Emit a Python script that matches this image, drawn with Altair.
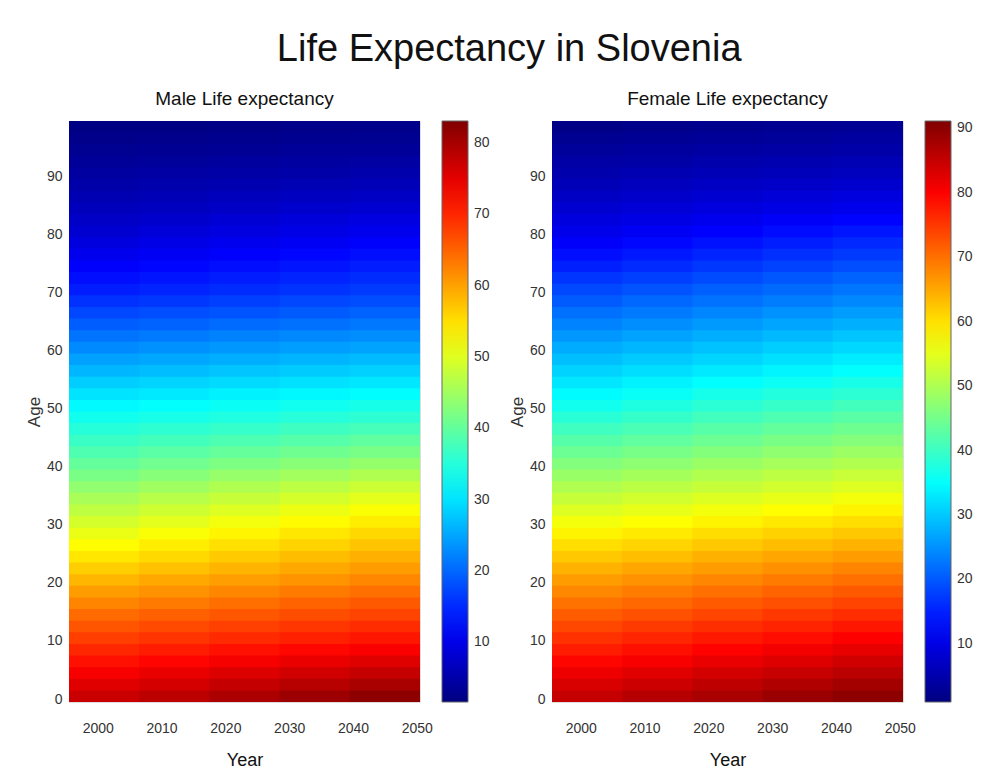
import altair as alt
import pandas as pd

# Column groups (first year of each 11-year block, years 1996-2050)
year_blocks = [1996, 2007, 2018, 2029, 2040]
# Row groups (first age of each 2-year age band, ages 0-99)
ages = list(range(0, 100, 2))

# Male remaining life expectancy (years), one list per year block, ages 0..98 step 2
male_1996 = [77.2, 75.3, 73.5, 71.6, 69.8, 68.0, 66.2, 64.4, 62.4, 60.4, 58.4, 56.5, 54.5, 52.7, 50.9, 49.2, 47.4, 45.6, 43.7, 41.9, 40.1, 38.4, 36.7, 35.1, 33.5, 31.8, 30.0, 28.2, 26.4, 24.6, 22.8, 21.0, 19.2, 17.4, 15.7, 14.0, 12.8, 11.6, 10.4, 9.2, 8.1, 7.2, 6.4, 5.7, 4.9, 4.2, 3.6, 3.0, 2.5, 1.9]
male_2007 = [78.3, 76.4, 74.5, 72.6, 70.7, 68.8, 67.0, 65.2, 63.2, 61.3, 59.4, 57.5, 55.6, 53.9, 52.1, 50.4, 48.6, 46.8, 44.9, 43.0, 41.1, 39.3, 37.5, 35.8, 34.0, 32.3, 30.5, 28.7, 26.9, 25.1, 23.3, 21.5, 19.7, 18.0, 16.2, 14.6, 13.4, 12.2, 11.0, 9.8, 8.7, 7.7, 6.8, 6.0, 5.2, 4.5, 3.8, 3.1, 2.6, 2.0]
male_2018 = [79.6, 77.6, 75.6, 73.6, 71.6, 69.6, 67.8, 66.0, 64.1, 62.2, 60.3, 58.5, 56.7, 55.0, 53.3, 51.6, 49.8, 48.0, 46.1, 44.1, 42.1, 40.2, 38.3, 36.4, 34.6, 32.9, 31.1, 29.3, 27.5, 25.7, 23.9, 22.1, 20.3, 18.5, 16.8, 15.2, 14.0, 12.8, 11.6, 10.4, 9.3, 8.3, 7.3, 6.4, 5.5, 4.7, 4.0, 3.3, 2.8, 2.2]
male_2029 = [80.8, 78.7, 76.6, 74.5, 72.4, 70.4, 68.6, 66.8, 65.0, 63.1, 61.2, 59.5, 57.8, 56.1, 54.5, 52.8, 51.0, 49.2, 47.2, 45.1, 43.1, 41.0, 39.0, 37.1, 35.2, 33.4, 31.6, 29.8, 28.0, 26.2, 24.4, 22.6, 20.8, 19.0, 17.4, 15.8, 14.6, 13.4, 12.2, 11.0, 9.8, 8.8, 7.7, 6.8, 5.8, 4.9, 4.2, 3.5, 2.9, 2.4]
male_2040 = [82.0, 79.8, 77.6, 75.5, 73.3, 71.2, 69.4, 67.6, 65.8, 64.0, 62.2, 60.5, 58.9, 57.3, 55.7, 54.0, 52.2, 50.4, 48.4, 46.2, 44.0, 41.9, 39.8, 37.7, 35.7, 33.9, 32.1, 30.3, 28.5, 26.7, 24.9, 23.1, 21.3, 19.6, 17.9, 16.4, 15.2, 14.0, 12.8, 11.6, 10.4, 9.3, 8.1, 7.1, 6.2, 5.2, 4.4, 3.6, 3.0, 2.5]

# Female remaining life expectancy (years)
female_1996 = [85.1, 83.2, 81.3, 79.4, 77.4, 75.5, 73.6, 71.7, 69.8, 67.9, 66.0, 64.1, 62.2, 60.2, 58.3, 56.3, 54.3, 52.3, 50.3, 48.3, 46.3, 44.3, 42.3, 40.3, 38.3, 36.3, 34.5, 32.7, 30.9, 29.1, 27.4, 25.6, 23.8, 22.1, 20.3, 18.6, 16.8, 15.0, 13.4, 11.9, 10.4, 9.3, 8.1, 7.1, 6.0, 5.0, 4.2, 3.4, 2.5, 1.6]
female_2007 = [86.3, 84.4, 82.5, 80.5, 78.5, 76.6, 74.7, 72.7, 70.8, 68.9, 67.0, 65.1, 63.1, 61.1, 59.2, 57.2, 55.3, 53.3, 51.3, 49.3, 47.3, 45.3, 43.3, 41.3, 39.4, 37.4, 35.5, 33.7, 31.9, 30.1, 28.3, 26.6, 24.8, 23.1, 21.3, 19.6, 17.8, 16.0, 14.4, 12.8, 11.3, 10.0, 8.7, 7.6, 6.5, 5.4, 4.5, 3.7, 2.8, 1.9]
female_2018 = [87.5, 85.6, 83.7, 81.7, 79.7, 77.7, 75.8, 73.8, 71.9, 70.0, 68.0, 66.1, 64.2, 62.2, 60.3, 58.3, 56.3, 54.3, 52.3, 50.4, 48.4, 46.4, 44.4, 42.4, 40.5, 38.5, 36.6, 34.8, 32.9, 31.1, 29.4, 27.6, 25.8, 24.1, 22.3, 20.6, 18.9, 17.1, 15.4, 13.8, 12.3, 10.8, 9.4, 8.2, 7.0, 5.8, 4.9, 4.0, 3.1, 2.2]
female_2029 = [88.7, 86.8, 84.8, 82.8, 80.8, 78.7, 76.8, 74.9, 72.9, 71.0, 69.0, 67.1, 65.2, 63.2, 61.3, 59.3, 57.3, 55.3, 53.3, 51.4, 49.4, 47.5, 45.5, 43.5, 41.5, 39.5, 37.7, 35.8, 33.9, 32.1, 30.4, 28.6, 26.8, 25.1, 23.3, 21.6, 19.9, 18.1, 16.4, 14.8, 13.2, 11.6, 10.0, 8.7, 7.4, 6.2, 5.3, 4.3, 3.4, 2.5]
female_2040 = [89.9, 88.0, 86.0, 83.9, 81.9, 79.8, 77.9, 75.9, 73.9, 72.0, 70.0, 68.1, 66.1, 64.1, 62.2, 60.2, 58.3, 56.3, 54.3, 52.4, 50.4, 48.5, 46.5, 44.5, 42.6, 40.6, 38.7, 36.8, 34.9, 33.1, 31.3, 29.6, 27.8, 26.1, 24.3, 22.6, 20.9, 19.1, 17.4, 15.8, 14.1, 12.4, 10.6, 9.3, 7.9, 6.6, 5.6, 4.6, 3.8, 2.9]

male_range = [1.6, 83.1]
female_range = [1.0, 91.1]
male_ticks = [10, 20, 30, 40, 50, 60, 70, 80]
female_ticks = [10, 20, 30, 40, 50, 60, 70, 80, 90]
year_ticks = [2000, 2010, 2020, 2030, 2040, 2050]
age_ticks = [0, 10, 20, 30, 40, 50, 60, 70, 80, 90]

JET = ["#000080", "#0000ff", "#0080ff", "#00ffff", "#80ff80",
       "#ffff00", "#ff8000", "#ff0000", "#800000"]

SANS = "Liberation Sans, Arial, sans-serif"


def table(columns):
    rows = []
    for ys, col in zip(year_blocks, columns):
        for a, v in zip(ages, col):
            rows.append({"year": ys, "age": a, "le": v})
    return pd.DataFrame(rows)


def panel(df, title, domain, ticks):
    cscale = alt.Scale(domain=domain, range=JET, interpolate="rgb")
    # cells are drawn in data order; each one reaches slightly under the next
    # so that no antialiasing seam shows between neighbouring cells
    return (
        alt.Chart(df, title=alt.TitleParams(title, fontSize=19, font=SANS,
                                            fontWeight="normal", color="#111",
                                            offset=12))
        .transform_calculate(x0="datum.year - 0.5", x1="datum.year + 10.75",
                             y0="datum.age - 0.5", y1="datum.age + 1.75")
        .mark_rect(clip=True)
        .encode(
            x=alt.X("x0:Q",
                    scale=alt.Scale(domain=[1995.5, 2050.5], nice=False, zero=False),
                    axis=alt.Axis(values=year_ticks, format="d", title="Year",
                                  grid=False, ticks=False, domain=False,
                                  labelFont=SANS, labelFontSize=14,
                                  labelColor="#333", labelPadding=19,
                                  titleFont=SANS, titleFontSize=18,
                                  titleFontWeight="normal", titleColor="#111",
                                  titlePadding=16)),
            x2="x1:Q",
            y=alt.Y("y0:Q",
                    scale=alt.Scale(domain=[-0.5, 99.5], nice=False, zero=False),
                    axis=alt.Axis(values=age_ticks, title="Age", grid=False,
                                  ticks=False, domain=False,
                                  labelFont=SANS, labelFontSize=14,
                                  labelColor="#333", labelPadding=7,
                                  titleFont=SANS, titleFontSize=17,
                                  titleFontWeight="normal", titleColor="#333",
                                  titlePadding=3)),
            y2="y1:Q",
            color=alt.Color("le:Q", scale=cscale,
                            legend=alt.Legend(title=None, values=ticks,
                                              direction="vertical",
                                              gradientLength=581,
                                              gradientThickness=26,
                                              gradientStrokeColor="#666",
                                              gradientStrokeWidth=1,
                                              labelFont=SANS, labelFontSize=14,
                                              labelColor="#333", labelOffset=6,
                                              offset=22)),
        )
        .properties(width=351, height=581)
    )


male = panel(table([male_1996, male_2007, male_2018, male_2029, male_2040]),
             "Male Life expectancy", male_range, male_ticks)
female = panel(table([female_1996, female_2007, female_2018, female_2029, female_2040]),
               "Female Life expectancy", female_range, female_ticks)

chart = (
    alt.hconcat(male, female, spacing=16)
    .resolve_scale(color="independent")
    .properties(
        title=alt.TitleParams("Life Expectancy in Slovenia", fontSize=38, font=SANS,
                              fontWeight="normal", color="#111", anchor="middle",
                              offset=21, dx=10),
        padding={"left": 16, "top": 22, "right": 5, "bottom": 5},
    )
    .configure_view(stroke="#555", strokeWidth=1)
    .configure(background="white")
)

chart.save("out.html", embed_options={"renderer": "svg", "actions": False})
